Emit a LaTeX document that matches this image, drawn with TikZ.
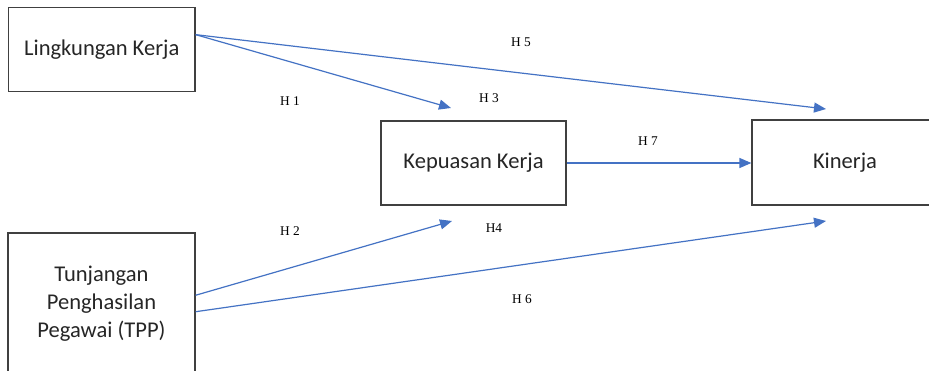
\documentclass[tikz,border=0pt]{standalone}
\usepackage{fontspec}
\setmainfont{Carlito}
\newfontfamily\hfont{Liberation Serif}
\usetikzlibrary{arrows.meta}
\definecolor{arrowblue}{HTML}{4472C4}
\definecolor{boxgray}{HTML}{404040}
\begin{document}
\begin{tikzpicture}[x=0.75pt,y=-0.75pt,
  box/.style={draw=boxgray,line width=0.9pt,inner sep=0pt,align=center,font=\fontsize{16.9}{21}\selectfont,text=black!85},
  link/.style={draw=arrowblue,line width=0.9pt,-{Triangle[length=9pt,width=7.5pt]}},
  hlab/.style={font=\hfont\fontsize{10}{12}\selectfont,inner sep=0pt}]
\useasboundingbox (0,0) rectangle (929,371);
\clip (0,0) rectangle (929,371);
\fill[white] (0,0) rectangle (929,371);
\node[box,minimum width=139.9pt,minimum height=62.5pt] (l) at (101.75,49.5) {Lingkungan Kerja};
\node[box,minimum width=138.75pt,minimum height=63pt] (k) at (473.5,163) {Kepuasan Kerja};
\node[box,minimum width=139.5pt,minimum height=63.75pt] (n) at (845,162.5) {Kinerja};
\node[box,minimum width=140.25pt,minimum height=105.75pt] (t) at (101.5,303.5) {Tunjangan\\Penghasilan\\Pegawai (TPP)};
\coordinate (h3) at (451,108);
\coordinate (h5) at (826,109);
\coordinate (h4) at (452,221);
\coordinate (h6) at (826,221);
\draw[link] (l.9) -- (h3);
\draw[link] (l.9) -- (h5);
\draw[link] (k.east) -- (k.east -| n.west);
\draw[link] (t.5.2) -- (h4);
\draw[link] (t.-5.8) -- (h6);
\node[hlab] (H1) at (290,101) {H 1};
\node[hlab] (H3) at (489,98) {H 3};
\node[hlab] (H5) at (521,42) {H 5};
\node[hlab] (H7) at (648,141) {H 7};
\node[hlab] (H2) at (290,231) {H 2};
\node[hlab] (H4) at (494,228) {H4};
\node[hlab] (H6) at (522,299) {H 6};
\end{tikzpicture}
\end{document}
